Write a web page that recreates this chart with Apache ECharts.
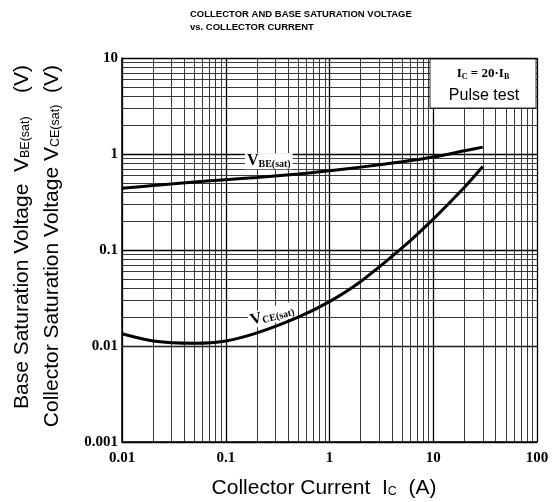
<!DOCTYPE html>
<html><head><meta charset="utf-8">
<script src="https://cdn.jsdelivr.net/npm/echarts@6/dist/echarts.min.js"></script>
<style>html,body{margin:0;padding:0;background:#fff}#c{width:553px;height:502px}</style>
</head><body><div id="c"></div>
<script>
// Collector current Ic (A)
const ic = [0.01, 0.02, 0.05, 0.1, 0.2, 0.5, 1, 2, 5, 10, 20, 30];
// Base saturation voltage VBE(sat) (V)
const vbe = [0.44, 0.47, 0.51, 0.54, 0.57, 0.62, 0.67, 0.73, 0.83, 0.93, 1.08, 1.18];
// Collector saturation voltage VCE(sat) (V)
const vce = [0.0134, 0.0113, 0.0107, 0.0113, 0.0137, 0.020, 0.029, 0.047, 0.105, 0.21, 0.45, 0.74];
// tick labels
const xTickLabels = {'0.01':'0.01','0.1':'0.1','1':'1','10':'10','100':'100'};
const yTickLabels = {'0.001':'0.001','0.01':'0.01','0.1':'0.1','1':'1','10':'10'};
// minor grid positions (2..9 within each decade)
const xDecades = [0.01, 0.1, 1, 10];
const yDecades = [0.001, 0.01, 0.1, 1];
const mult = [2, 3, 4, 5, 6, 7, 8, 9];

const xMinor = [], yMinor = [];
xDecades.forEach(d => mult.forEach(m => xMinor.push(+(d * m).toPrecision(3))));
yDecades.forEach(d => mult.forEach(m => yMinor.push(+(d * m).toPrecision(3))));

const chart = echarts.init(document.getElementById('c'));
const serif = 'Liberation Serif';
const sans = 'Liberation Sans';

function fmt(map) {
  return v => { const k = String(+v.toPrecision(3)); return map[k] !== undefined ? map[k] : ''; };
}

chart.setOption({
  animation: false,
  backgroundColor: '#fff',
  grid: { left: 122, right: 16, top: 58, bottom: 60 },
  xAxis: {
    type: 'log', logBase: 10, min: 0.01, max: 100,
    axisLine: { lineStyle: { color: '#000', width: 1.5 } },
    axisTick: { show: false },
    splitLine: { show: true, lineStyle: { color: '#000', width: 1.3 } },
    axisLabel: { formatter: fmt(xTickLabels), color: '#000', fontFamily: serif, fontSize: 15, fontWeight: 'bold', margin: 9 }
  },
  yAxis: {
    type: 'log', logBase: 10, min: 0.001, max: 10,
    axisLine: { show: true, lineStyle: { color: '#000', width: 1.5 } },
    axisTick: { show: false },
    splitLine: { show: true, lineStyle: { color: '#000', width: 1.3 } },
    axisLabel: { formatter: fmt(yTickLabels), color: '#000', fontFamily: serif, fontSize: 15, fontWeight: 'bold', margin: 4 }
  },
  series: [
    {
      type: 'line', z: 1, data: [[1, 1]], showSymbol: false, silent: true,
      lineStyle: { opacity: 0 },
      markLine: {
        silent: true, symbol: ['none', 'none'], animation: false,
        label: { show: false },
        lineStyle: { color: '#222', width: 0.9, type: 'solid' },
        data: xMinor.map(v => ({ xAxis: v })).concat(yMinor.map(v => ({ yAxis: v })))
      }
    },
    {
      name: 'VBE(sat)', type: 'line', z: 5, smooth: 0.3, showSymbol: false,
      data: ic.map((x, i) => [x, vbe[i]]),
      lineStyle: { color: '#000', width: 3 },
      markPoint: {
        symbol: 'rect', symbolSize: 1, itemStyle: { color: 'rgba(0,0,0,0)' },
        data: [{ coord: [0.26, 0.84] }],
        label: {
          show: true, position: 'inside', backgroundColor: '#fff', padding: [0, 2],
          formatter: '{v|V}{s|BE(sat)}',
          rich: {
            v: { fontFamily: serif, fontSize: 16, fontWeight: 'bold', color: '#000' },
            s: { fontFamily: serif, fontSize: 10, fontWeight: 'bold', color: '#000', verticalAlign: 'bottom', padding: [5, 0, 0, 0] }
          }
        }
      }
    },
    {
      name: 'VCE(sat)', type: 'line', z: 5, smooth: 0.3, showSymbol: false,
      data: ic.map((x, i) => [x, vce[i]]),
      lineStyle: { color: '#000', width: 3 },
      markPoint: {
        symbol: 'rect', symbolSize: 1, itemStyle: { color: 'rgba(0,0,0,0)' },
        data: [{ coord: [0.28, 0.021] }],
        label: {
          show: true, position: 'inside', rotate: 15, backgroundColor: '#fff', padding: [0, 2],
          formatter: '{v|V}{s|CE(sat)}',
          rich: {
            v: { fontFamily: serif, fontSize: 16, fontWeight: 'bold', color: '#000' },
            s: { fontFamily: serif, fontSize: 10, fontWeight: 'bold', color: '#000', verticalAlign: 'bottom', padding: [5, 0, 0, 0] }
          }
        }
      }
    }
  ],
  graphic: [
    { type: 'text', left: 190, top: 9, style: { text: 'COLLECTOR AND BASE SATURATION VOLTAGE', font: 'bold 9.5px "Liberation Sans"', fill: '#000' } },
    { type: 'text', left: 190, top: 22, style: { text: 'vs. COLLECTOR CURRENT', font: 'bold 9.5px "Liberation Sans"', fill: '#000' } },
    { type: 'rect', z: 100, shape: { x: 430, y: 59, width: 106, height: 49 }, style: { fill: '#fff', stroke: '#000', lineWidth: 0.8 } },
    { type: 'text', z: 101, x: 483, y: 74, style: {
        text: '{s|I}{b|C}{s| = 20·I}{b|B}', align: 'center', verticalAlign: 'middle',
        rich: {
          s: { fontFamily: serif, fontSize: 13, fontWeight: 'bold', fill: '#000' },
          b: { fontFamily: serif, fontSize: 8, fontWeight: 'bold', fill: '#000', verticalAlign: 'bottom', padding: [5, 0, 0, 0] }
        } } },
    { type: 'text', z: 101, x: 484, y: 96, style: { text: 'Pulse test', align: 'center', verticalAlign: 'middle', font: '16px "Liberation Sans"', fill: '#000' } },
    { type: 'text', x: 22, y: 65, rotation: Math.PI / 2, style: {
        text: '{a|Base Saturation Voltage  V}{s|BE(sat)}{a|    (V)}', align: 'right', verticalAlign: 'middle',
        rich: {
          a: { fontFamily: sans, fontSize: 21, fill: '#000' },
          s: { fontFamily: sans, fontSize: 12.5, fill: '#000', verticalAlign: 'bottom', padding: [7, 0, 0, 0] }
        } } },
    { type: 'text', x: 52, y: 65, rotation: Math.PI / 2, style: {
        text: '{a|Collector Saturation Voltage V}{s|CE(sat)}{a|  (V)}', align: 'right', verticalAlign: 'middle',
        rich: {
          a: { fontFamily: sans, fontSize: 21, fill: '#000' },
          s: { fontFamily: sans, fontSize: 12.5, fill: '#000', verticalAlign: 'bottom', padding: [7, 0, 0, 0] }
        } } },
    { type: 'text', x: 324, y: 488, style: {
        text: '{a|Collector Current  I}{s|C}{a|  (A)}', align: 'center', verticalAlign: 'middle',
        rich: {
          a: { fontFamily: sans, fontSize: 21, fill: '#000' },
          s: { fontFamily: sans, fontSize: 12.5, fill: '#000', verticalAlign: 'bottom', padding: [6, 0, 0, 0] }
        } } }
  ]
});
</script>
</body></html>
